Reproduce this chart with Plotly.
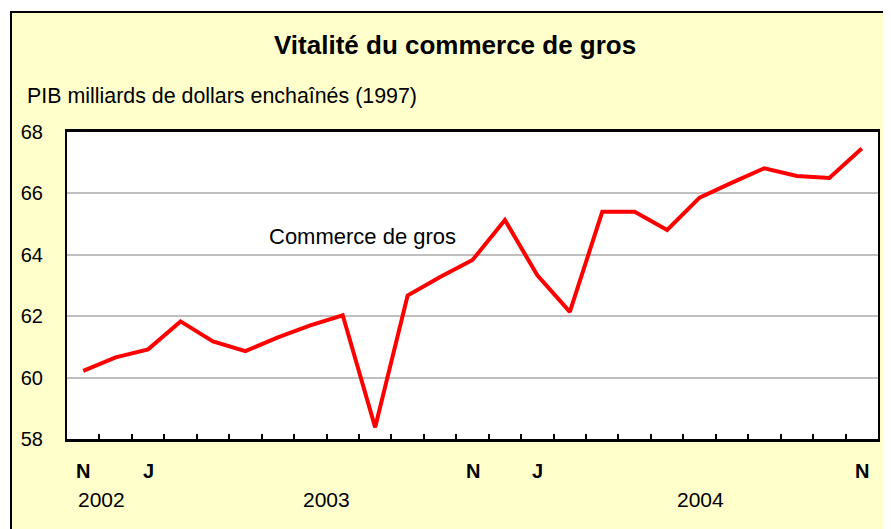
import plotly.graph_objects as go

months = ["N", "D", "J", "F", "M", "A", "M", "J", "J", "A", "S", "O",
          "N", "D", "J", "F", "M", "A", "M", "J", "J", "A", "S", "O", "N"]
values = [60.22, 60.66, 60.92, 61.83, 61.18, 60.86, 61.31, 61.70, 62.03, 58.38,
          62.67, 63.28, 63.83, 65.13, 63.33, 62.14, 65.40, 65.40, 64.81, 65.86,
          66.35, 66.82, 66.57, 66.50, 67.46]
shown_month_labels = {0: "N", 2: "J", 12: "N", 14: "J", 24: "N"}
year_labels = ["2002", "2003", "2004"]
year_positions = [0.55, 7.5, 19.03]
y_ticks = [58, 60, 62, 64, 66, 68]

# page has an 8px body margin; the figure is placed at (8, 8)
OFF = 8
W, H = 891 - OFF, 529 - OFF
L, R, T, B = 67, 878, 132, 439          # page pixel coords of plot area
PW, PH = R - L, B - T

def px(x):
    return (x - L) / PW

def py(y):
    return (B - y) / PH

FONT = "Liberation Sans, Arial, sans-serif"
YELLOW = "#FFFFCC"

x = list(range(len(values)))

fig = go.Figure()
fig.add_trace(go.Scatter(x=x, y=values, mode="lines",
                         line=dict(color="#FF0000", width=4),
                         hoverinfo="skip", showlegend=False))

shapes = [
    dict(type="rect", xref="paper", yref="paper", x0=px(0), x1=px(10), y0=py(540), y1=py(0),
         fillcolor="white", line=dict(width=0), layer="below"),
    dict(type="rect", xref="paper", yref="paper", x0=px(0), x1=px(900), y0=py(11), y1=py(0),
         fillcolor="white", line=dict(width=0), layer="below"),
    dict(type="line", xref="paper", yref="paper", x0=px(11), x1=px(11), y0=py(11), y1=py(540),
         line=dict(color="black", width=2)),
    dict(type="line", xref="paper", yref="paper", x0=px(10), x1=px(900), y0=py(12), y1=py(12),
         line=dict(color="black", width=2)),
]

annotations = [
    dict(text="<b>Vitalité du commerce de gros</b>", xref="paper", yref="paper",
         x=px(455), y=py(45), showarrow=False, xanchor="center", yanchor="middle",
         font=dict(family=FONT, size=26, color="black")),
    dict(text="PIB milliards de dollars enchaînés (1997)", xref="paper", yref="paper",
         x=px(25), y=py(96), showarrow=False, xanchor="left", yanchor="middle",
         font=dict(family=FONT, size=21.4, color="black")),
    dict(text="Commerce de gros", xref="x", yref="y",
         x=5.65, y=64.6, showarrow=False, xanchor="left", yanchor="middle",
         font=dict(family=FONT, size=22, color="black")),
]
for i, lab in shown_month_labels.items():
    annotations.append(dict(text="<b>" + lab + "</b>", xref="x", yref="paper",
                            x=i, y=py(471), showarrow=False, xanchor="center", yanchor="middle",
                            font=dict(family=FONT, size=20, color="black")))
for lab, pos in zip(year_labels, year_positions):
    annotations.append(dict(text=lab, xref="x", yref="paper",
                            x=pos, y=py(499), showarrow=False, xanchor="center", yanchor="middle",
                            font=dict(family=FONT, size=21, color="black")))

fig.update_layout(
    width=W, height=H,
    margin=dict(l=L - OFF, r=891 - R, t=T - OFF, b=529 - B, pad=0),
    paper_bgcolor=YELLOW, plot_bgcolor="white",
    shapes=shapes, annotations=annotations,
    xaxis=dict(range=[-0.5, len(values) - 0.5], tickvals=[i + 0.5 for i in range(len(values) - 1)],
               ticktext=["" for _ in range(len(values) - 1)],
               ticks="inside", ticklen=5, tickwidth=1.5, tickcolor="black",
               showgrid=False, zeroline=False, showline=True, linecolor="black", linewidth=2.5,
               mirror=True, fixedrange=True),
    yaxis=dict(range=[58, 68], tickvals=y_ticks, ticktext=[str(v) for v in y_ticks],
               showgrid=True, gridcolor="#C0C0C0", gridwidth=1.5, zeroline=False,
               showline=True, linecolor="black", linewidth=2, mirror=True,
               ticks="", ticklabelstandoff=18,
               tickfont=dict(family=FONT, size=20, color="black"), fixedrange=True),
)

fig.write_html("out.html", config={"displayModeBar": False})
